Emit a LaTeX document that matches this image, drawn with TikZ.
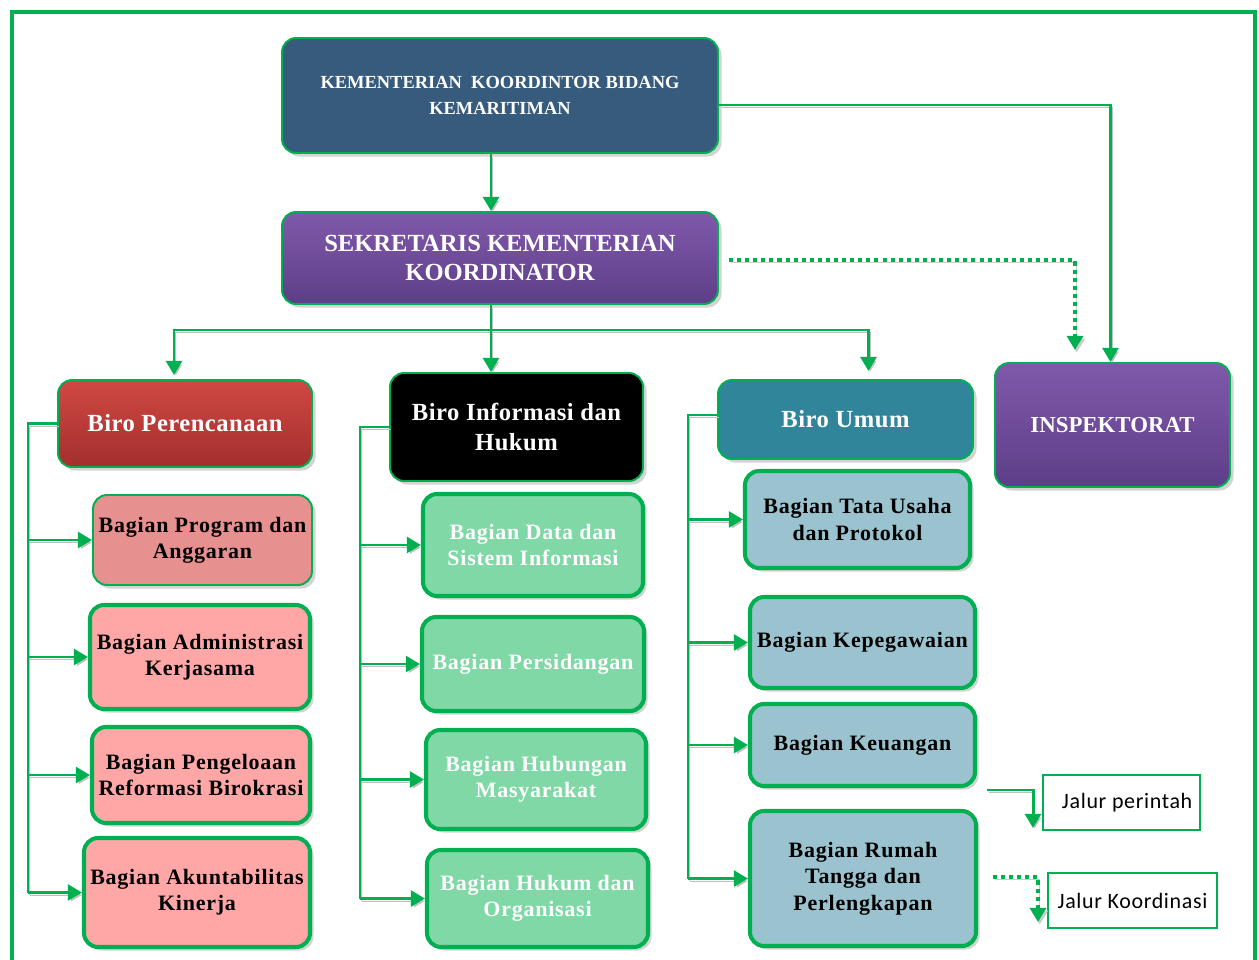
\documentclass[tikz,border=0pt]{standalone}
\usepackage{fontspec}
\setmainfont{Liberation Serif}
\newfontfamily\legendfont{Carlito}[LetterSpace=3]
\usetikzlibrary{arrows.meta,shadows,calc}
\definecolor{orggreen}{HTML}{00B050}
\definecolor{menkoblue}{HTML}{375B7D}
\definecolor{sekrtop}{HTML}{8059AA}
\definecolor{sekrbot}{HTML}{5E3E88}
\definecolor{perentop}{HTML}{D04843}
\definecolor{perenbot}{HTML}{A32F2D}
\definecolor{umumteal}{HTML}{31859B}
\definecolor{pinkdark}{HTML}{E6908F}
\definecolor{pinklight}{HTML}{FFA7A7}
\definecolor{mintbox}{HTML}{80D8A6}
\definecolor{bluegrey}{HTML}{9AC3CF}

\begin{document}
\begin{tikzpicture}[x=0.02cm, y=-0.02cm,
    zone/.style args={#1/#2/#3/#4}{at={({(#1+#3)/2},{(#2+#4)/2})},
        minimum width={(#3-#1)*0.02cm}, minimum height={(#4-#2)*0.02cm}},
    box/.style={rounded corners=8pt, draw=orggreen, line width=1.1pt, inner sep=0pt,
        align=center, font=\bfseries,
        drop shadow={shadow xshift=2pt, shadow yshift=-2pt, opacity=0.35}},
    subbox/.style={box, line width=2.3pt,
        font=\fontsize{12.5}{15}\selectfont\bfseries\addfontfeature{LetterSpace=3.5}},
    birobox/.style={box, text=white,
        font=\fontsize{14}{17}\selectfont\bfseries\addfontfeature{LetterSpace=2}},
    legbox/.style={draw=orggreen, line width=1.1pt, inner sep=0pt,
        font=\legendfont\fontsize{12.5}{15}\selectfont},
    line/.style={orggreen, line width=1.7pt,
        preaction={draw=black!25, transform canvas={shift={(1pt,-1.5pt)}}}},
    arrow/.style={line, -{Triangle[width=9pt,length=8pt]}},
    dotline/.style={orggreen, line width=2.3pt, dash pattern=on 2.3pt off 2.3pt,
        -{Triangle[width=9pt,length=8pt]},
        preaction={draw=black!20, transform canvas={shift={(1pt,-1.5pt)}}}}]

    \useasboundingbox (0,0) rectangle (1259,960);
    % outer frame
    \draw[orggreen, line width=2.3pt] (12,12) rectangle (1255,1000);

    % top level
    \node[box, fill=menkoblue, text=white, font=\fontsize{10.5}{15}\selectfont\bfseries,
        zone=282/38/718/153] (menko) {KEMENTERIAN \ KOORDINTOR BIDANG\\KEMARITIMAN};
    \node[box, top color=sekrtop, bottom color=sekrbot, text=white,
        font=\fontsize{14}{16}\selectfont\bfseries,
        zone=282/212/718/304] (sekr) {SEKRETARIS KEMENTERIAN\\KOORDINATOR};
    \node[box, top color=sekrtop, bottom color=sekrbot, text=white,
        font=\fontsize{13}{15}\selectfont\bfseries,
        zone=995/363/1230/487] (insp) {INSPEKTORAT};

    % biro
    \node[birobox, top color=perentop, bottom color=perenbot,
        zone=58/380/312/467] (biroA) {Biro Perencanaan};
    \node[birobox, fill=black, zone=390/373/643/481] (biroB) {Biro Informasi dan\\Hukum};
    \node[birobox, fill=umumteal, zone=718/380/973/459] (biroC) {Biro Umum};

    % bagian under Biro Perencanaan
    \node[subbox, line width=1.1pt, fill=pinkdark, zone=93/495/312/585] (a1) {Bagian Program dan\\Anggaran};
    \node[subbox, fill=pinklight, zone=90/605/310/709] (a2) {Bagian Administrasi\\Kerjasama};
    \node[subbox, fill=pinklight, zone=92/727/310/823] (a3) {Bagian Pengeloaan\\Reformasi Birokrasi};
    \node[subbox, fill=pinklight, zone=84/838/310/947] (a4) {Bagian Akuntabilitas\\Kinerja};

    % bagian under Biro Informasi dan Hukum
    \node[subbox, fill=mintbox, text=white, zone=423/494/643/596] (b1) {Bagian Data dan\\Sistem Informasi};
    \node[subbox, fill=mintbox, text=white, zone=422/617/644/711] (b2) {Bagian Persidangan};
    \node[subbox, fill=mintbox, text=white, zone=426/730/646/829] (b3) {Bagian Hubungan\\Masyarakat};
    \node[subbox, fill=mintbox, text=white, zone=427/850/648/947] (b4) {Bagian Hukum dan\\Organisasi};

    % bagian under Biro Umum
    \node[subbox, fill=bluegrey, zone=745/471/970/568] (c1) {Bagian Tata Usaha\\dan Protokol};
    \node[subbox, fill=bluegrey, zone=750/597/975/688] (c2) {Bagian Kepegawaian};
    \node[subbox, fill=bluegrey, zone=750/704/975/786] (c3) {Bagian Keuangan};
    \node[subbox, fill=bluegrey, zone=750/811/976/946] (c4) {Bagian Rumah\\Tangga dan\\Perlengkapan};

    % legend
    \node[legbox, zone=1043/775/1200/830] (legA) {\ \ Jalur perintah};
    \node[legbox, zone=1048/873/1217/928] (legB) {Jalur Koordinasi};

    % command lines from the top
    \draw[arrow] ($(menko.south)+(-9,0)$) -- ($(sekr.north)+(-9,0)$);
    \draw[arrow] (menko.east |- 0,105) -| ($(insp.north)+(-2,0)$);
    \coordinate (dotEnd) at (1075,350);
    \draw[dotline, shorten <=10*0.02cm] (sekr.east |- 0,260) -| (dotEnd);

    % sekretaris to biro
    \coordinate (hub) at (491,330);
    \draw[line] (sekr.south -| hub) -- (hub);
    \draw[arrow] (hub) -| ($(biroA.north)+(-11,-4)$);
    \draw[arrow] (hub) -- (hub |- biroB.north);
    \draw[arrow] (hub) -| ($(biroC.north)+(23,-8)$);

    % biro to bagian
    \coordinate (busA) at (28,0);
    \coordinate (busB) at (360,0);
    \coordinate (busC) at (688,0);
    \draw[line] (biroA.west) -| (busA |- a4.west);
    \draw[line] (biroB.west) -| (busB |- b4.west);
    \draw[line] (biroC.west |- 0,415) -| (busC |- c4.west);
    \foreach \n in {a1,a2,a3,a4}
        \draw[arrow] (busA |- \n.west) -- (\n.west);
    \foreach \n in {b1,b2,b3,b4}
        \draw[arrow] (busB |- \n.west) -- (\n.west);
    \foreach \n in {c1,c2,c3,c4}
        \draw[arrow] (busC |- \n.west) -- (\n.west);

    % legend arrows
    \coordinate (legA0) at (987,790);
    \coordinate (legA1) at (1033,828);
    \draw[arrow] (legA0) -| (legA1);
    \coordinate (legB0) at (993,877);
    \coordinate (legB1) at (1038,922);
    \draw[dotline] (legB0) -| (legB1);
\end{tikzpicture}
\end{document}
